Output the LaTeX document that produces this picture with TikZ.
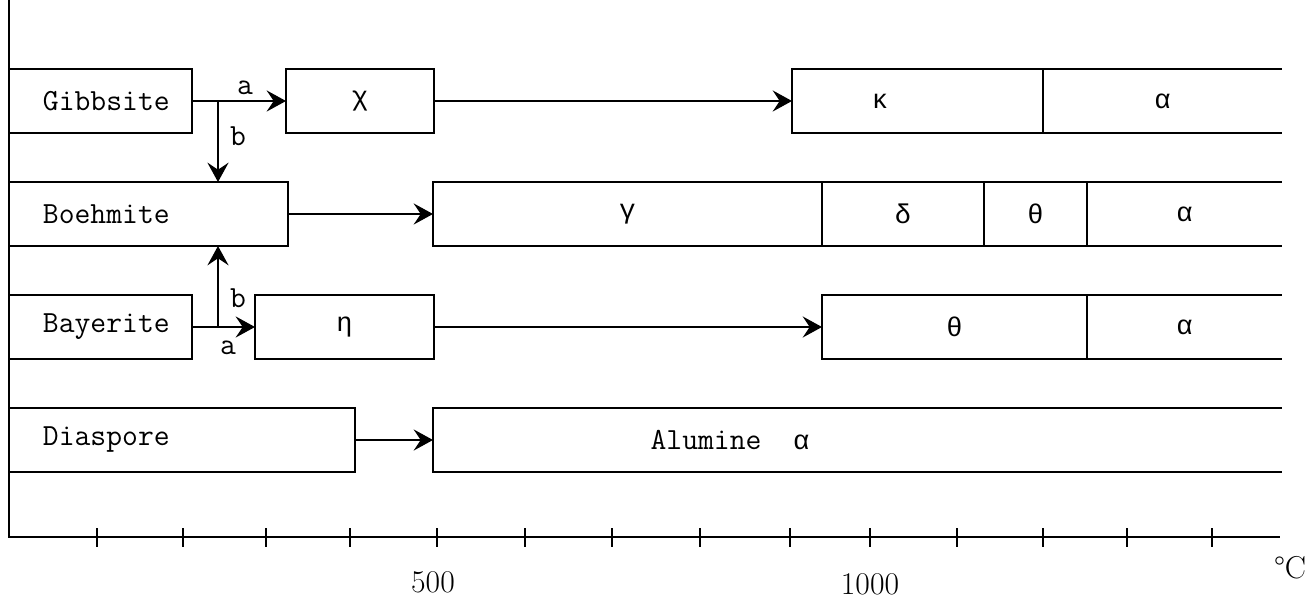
\documentclass[tikz,border=0pt]{standalone}
\usepackage{fontspec}
\newfontfamily\typew{Liberation Mono}
\usetikzlibrary{arrows.meta,positioning}

\begin{document}
\begin{tikzpicture}[x=0.02cm,y=-0.02cm,
  phasebox/.style={draw,line width=1.2pt,minimum height=1.28cm,inner sep=0pt,
    outer sep=0pt,anchor=west,font=\typew\fontsize{15.4}{18}\selectfont},
  mineral/.style={phasebox,text width=#1,align=left,inner xsep=0.68cm,
    font=\ttfamily\fontsize{17.5}{20}\selectfont},
  phase/.style={phasebox,minimum width=#1},
  openphase/.style={phase=#1,draw=none},
  edgeline/.style={line width=1.2pt},
  flow/.style={-{Stealth[length=11pt,width=12pt,inset=4pt]},line width=1.2pt},
  route/.style={font=\ttfamily\fontsize{17.5}{20}\selectfont,inner sep=0pt},
  axislabel/.style={font=\fontsize{18}{20}\selectfont,inner sep=0pt}
]
  \useasboundingbox (0,0) rectangle (1307,604);

  % Axes
  \coordinate (top) at (9,0);
  \coordinate (orig) at (9,537);
  \coordinate (xend) at (1280,537);
  \draw[edgeline] (top) -- (orig) -- (xend);
  \foreach \t in {97,183,266,350,437,525,612,700,790,870,957,1043,1127,1212}
    \draw[line width=1.4pt] (\t,528) -- (\t,547);
  \node[axislabel] (t500) at (433,582) {500};
  \node[axislabel] (t1000) at (870,584) {1000};
  \node[axislabel] (unit) at (1290,568) {\textdegree C};

  % Gibbsite
  \node[mineral=2.30cm] (gib) at (9,101) {Gibbsite};
  \node[phase=2.96cm] (chi) at (286,101) {χ};
  \node[phase=5.02cm] (kap) at (792,101) {};
  \node[route,font=\typew\fontsize{15.4}{18}\selectfont] (kaptxt) at (880,101) {κ};
  \node[openphase=4.78cm] (alg) at (1043,101) {α};
  \draw[edgeline] (kap.north east) -- (alg.north east) (kap.south east) -- (alg.south east);

  % Boehmite
  \node[mineral=4.22cm] (boe) at (9,214) {Boehmite};
  \node[phase=7.78cm] (gam) at (433,214) {γ};
  \node[phase=3.24cm] (del) at (822,214) {δ};
  \node[phase=2.06cm] (thb) at (984,214) {θ};
  \node[openphase=3.90cm] (alb) at (1087,214) {α};
  \draw[edgeline] (thb.north east) -- (alb.north east) (thb.south east) -- (alb.south east);

  % Bayerite
  \node[mineral=2.30cm] (bay) at (9,327) {Bayerite};
  \node[phase=3.58cm] (eta) at (255,327) {η};
  \node[phase=5.30cm] (thy) at (822,327) {θ};
  \node[openphase=3.90cm] (aly) at (1087,327) {α};
  \draw[edgeline] (thy.north east) -- (aly.north east) (thy.south east) -- (aly.south east);

  % Diaspore
  \node[mineral=5.56cm] (dia) at (9,440) {Diaspore};
  \node[openphase=16.98cm] (alu) at (433,440) {};
  \node[route] (alutxt) at (730,440) {Alumine~~{\typew\fontsize{15.4}{18}\selectfont α}};
  \draw[edgeline] (alu.north east) -- (alu.north west) -- (alu.south west) -- (alu.south east);

  % Transformations
  \coordinate (gsplit) at (218,101);
  \coordinate (bsplit) at (218,327);
  \draw[flow] (gib.east) -- (chi.west);
  \node[route] (ga) at (245,88) {a};
  \draw[flow] (gsplit) -- (gsplit |- boe.north);
  \node[route] (gb) at (238,136) {b};
  \draw[flow] (bay.east) -- (eta.west);
  \node[route] (ba) at (228,348) {a};
  \draw[flow] (bsplit) -- (bsplit |- boe.south);
  \node[route] (bb) at (238,298) {b};
  \draw[flow] (chi.east) -- (kap.west);
  \draw[flow] (boe.east) -- (gam.west);
  \draw[flow] (eta.east) -- (thy.west);
  \draw[flow] (dia.east) -- (alu.west);
\end{tikzpicture}
\end{document}
